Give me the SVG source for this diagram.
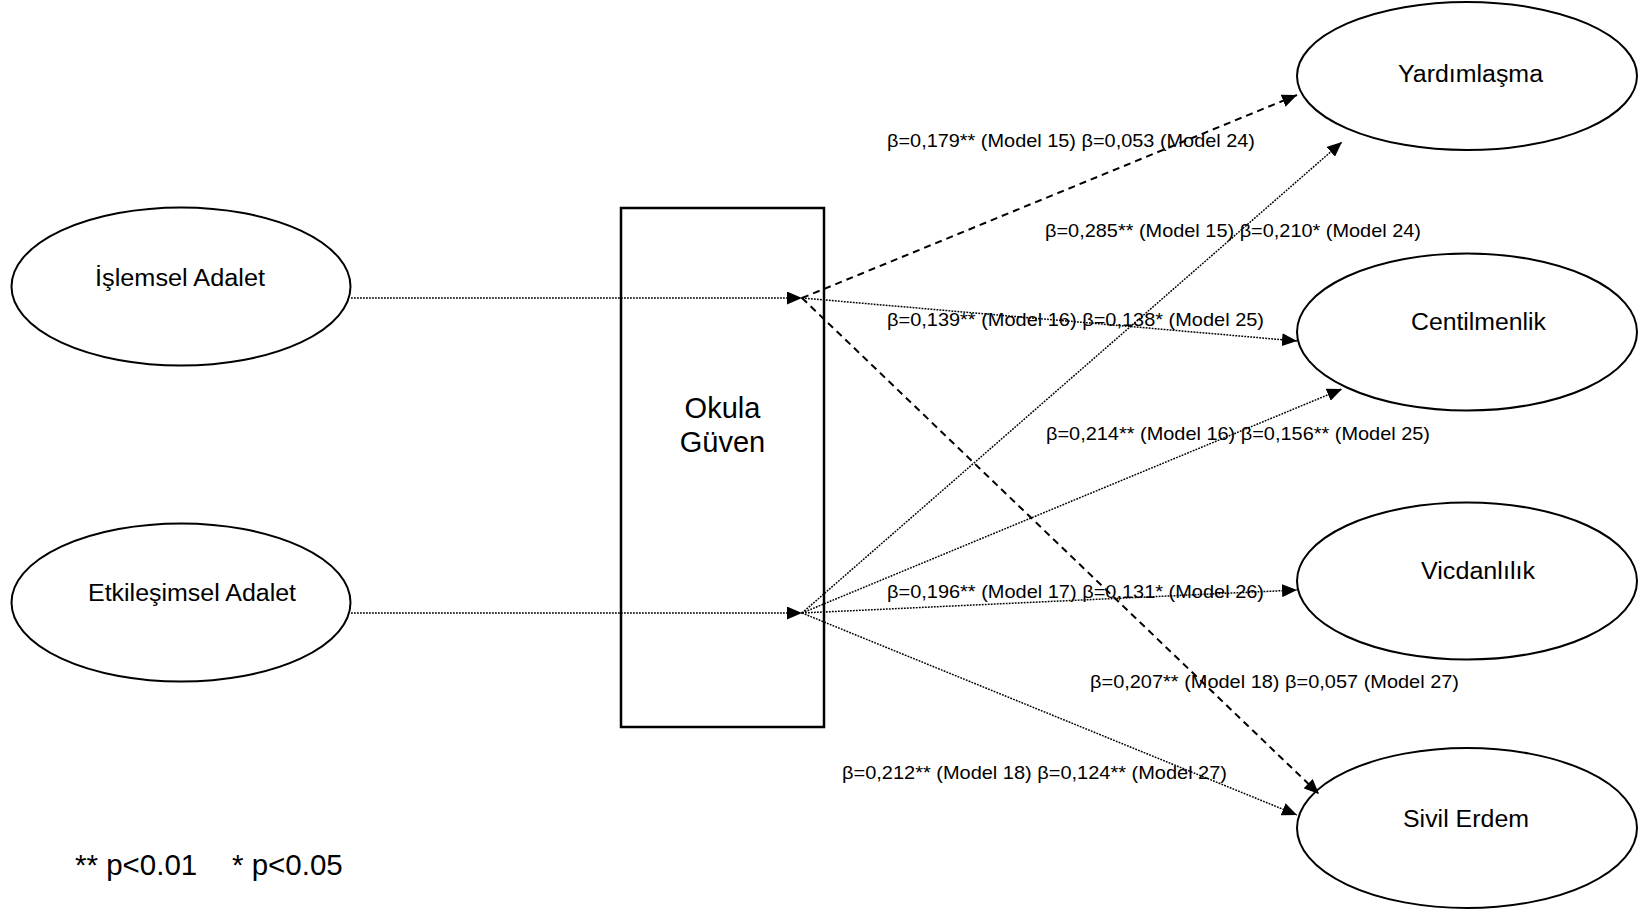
<svg xmlns="http://www.w3.org/2000/svg" width="1642" height="910" viewBox="0 0 1642 910">
<style>
.node{fill:#fff;stroke:#000;stroke-width:2}
.box{fill:#fff;stroke:#000;stroke-width:2.5}
.t{font-family:"Liberation Sans",Arial,sans-serif;fill:#000}
.nl{font-size:23px}
.lbl{font-size:18.5px}
.dot{fill:none;stroke:#000;stroke-width:1.5;stroke-dasharray:1.8 1.2}
.dash{fill:none;stroke:#000;stroke-width:2;stroke-dasharray:7 5}
</style>
<defs>
<marker id="ah" viewBox="0 0 15 13" refX="15" refY="6.5" markerWidth="15" markerHeight="13" markerUnits="userSpaceOnUse" orient="auto">
<path d="M0,0 L15,6.5 L0,13 z" fill="#000"/>
</marker>
</defs>
<rect width="1642" height="910" fill="#fff"/>
<g id="n-okula">
<rect class="box" x="621" y="208" width="203" height="519"/>
<text class="t" x="722.5" y="418" font-size="29" text-anchor="middle">Okula</text>
<text class="t" x="722.5" y="452" font-size="29" text-anchor="middle">Güven</text>
</g>
<g id="n-islemsel">
<ellipse class="node" cx="181" cy="286.5" rx="169.5" ry="79"/>
<text class="t nl" x="95" y="285.5" textLength="170" lengthAdjust="spacingAndGlyphs">İşlemsel Adalet</text>
</g>
<g id="n-etkilesimsel">
<ellipse class="node" cx="181" cy="602.5" rx="169.5" ry="79"/>
<text class="t nl" x="88" y="601" textLength="208" lengthAdjust="spacingAndGlyphs">Etkileşimsel Adalet</text>
</g>
<g id="n-yardim">
<ellipse class="node" cx="1467" cy="76" rx="170" ry="74"/>
<text class="t nl" x="1398" y="81.5" textLength="145" lengthAdjust="spacingAndGlyphs">Yardımlaşma</text>
</g>
<g id="n-centil">
<ellipse class="node" cx="1467" cy="332" rx="170" ry="78.5"/>
<text class="t nl" x="1411" y="330" textLength="135" lengthAdjust="spacingAndGlyphs">Centilmenlik</text>
</g>
<g id="n-vicdan">
<ellipse class="node" cx="1467" cy="581" rx="170" ry="78.5"/>
<text class="t nl" x="1421" y="579" textLength="114" lengthAdjust="spacingAndGlyphs">Vicdanlılık</text>
</g>
<g id="n-sivil">
<ellipse class="node" cx="1467" cy="828" rx="170" ry="80"/>
<text class="t nl" x="1403" y="827" textLength="126" lengthAdjust="spacingAndGlyphs">Sivil Erdem</text>
</g>
<g id="connectors">
<path class="dot" d="M351,298 L802,298" marker-end="url(#ah)"/>
<path class="dot" d="M351,613 L802,613" marker-end="url(#ah)"/>
<path class="dash" d="M802,298 L1297,95" marker-end="url(#ah)"/>
<path class="dot" d="M802,298 L1297,341" marker-end="url(#ah)"/>
<path class="dash" d="M802,298 L1319,794" marker-end="url(#ah)"/>
<path class="dot" d="M802,613 L1342,142" marker-end="url(#ah)"/>
<path class="dot" d="M802,613 L1342,389" marker-end="url(#ah)"/>
<path class="dot" d="M802,613 L1297,590" marker-end="url(#ah)"/>
<path class="dot" d="M802,613 L1297,815" marker-end="url(#ah)"/>
</g>
<g id="labels">
<text class="t lbl" x="887" y="147" textLength="368" lengthAdjust="spacingAndGlyphs">β=0,179** (Model 15) β=0,053 (Model 24)</text>
<text class="t lbl" x="1045" y="237" textLength="376" lengthAdjust="spacingAndGlyphs">β=0,285** (Model 15) β=0,210* (Model 24)</text>
<text class="t lbl" x="887" y="326" textLength="377" lengthAdjust="spacingAndGlyphs">β=0,139** (Model 16) β=0,138* (Model 25)</text>
<text class="t lbl" x="1046" y="439.5" textLength="384" lengthAdjust="spacingAndGlyphs">β=0,214** (Model 16) β=0,156** (Model 25)</text>
<text class="t lbl" x="887" y="597.5" textLength="377" lengthAdjust="spacingAndGlyphs">β=0,196** (Model 17) β=0,131* (Model 26)</text>
<text class="t lbl" x="1090" y="688" textLength="369" lengthAdjust="spacingAndGlyphs">β=0,207** (Model 18) β=0,057 (Model 27)</text>
<text class="t lbl" x="842" y="779" textLength="385" lengthAdjust="spacingAndGlyphs">β=0,212** (Model 18) β=0,124** (Model 27)</text>
</g>
<g id="legend">
<text class="t" y="875" font-size="29.5"><tspan x="75">** p&lt;0.01</tspan><tspan x="232">* p&lt;0.05</tspan></text>
</g>
</svg>
